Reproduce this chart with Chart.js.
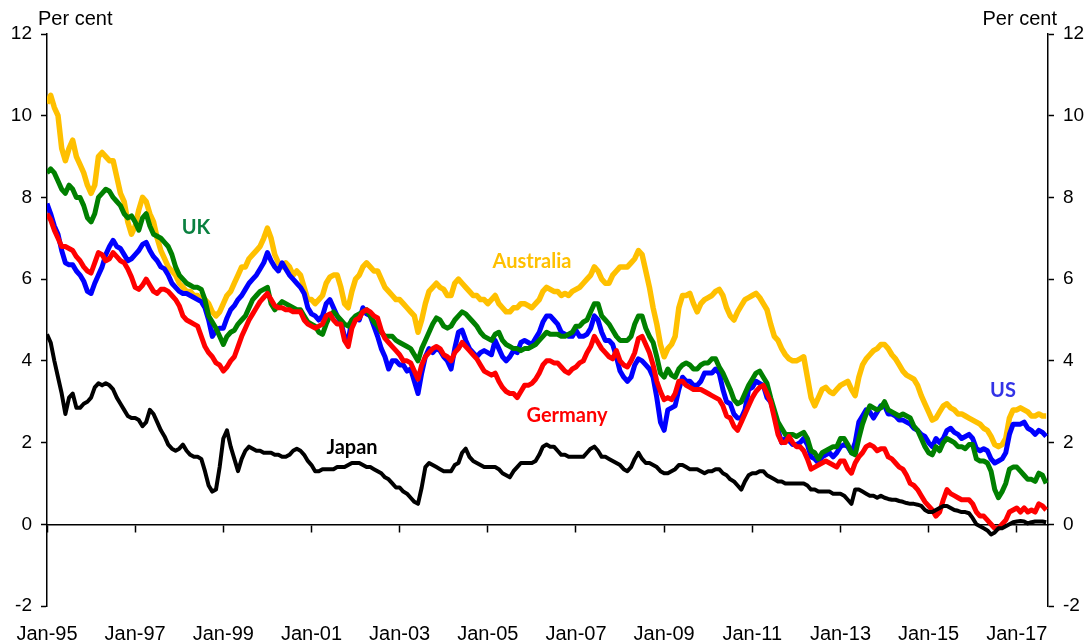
<!DOCTYPE html>
<html>
<head>
<meta charset="utf-8">
<script src="https://cdn.jsdelivr.net/npm/chart.js@4.4.1/dist/chart.umd.min.js"></script>
<style>
  body { margin: 0; background: #fff; }
  #wrap { width: 1092px; height: 644px; }
</style>
</head>
<body>
<div id="wrap"><canvas id="chart" width="1092" height="644"></canvas></div>
<script>
// monthly 10-year government bond yields, Jan-95 .. Sep-17 (one row per year)
const australia = [
	10.3, 10.5, 10.2, 10.0, 9.2, 8.9, 9.2, 9.4, 9.0, 8.8, 8.6, 8.3,
	8.1, 8.3, 9.0, 9.1, 9.0, 8.9, 8.9, 8.5, 8.1, 7.9, 7.4, 7.1,
	7.3, 7.7, 8.0, 7.9, 7.6, 7.4, 7.0, 6.7, 6.5, 6.3, 6.2, 6.1,
	5.9, 5.8, 5.7, 5.7, 5.6, 5.6, 5.5, 5.5, 5.4, 5.2, 5.1, 5.2,
	5.4, 5.6, 5.7, 5.9, 6.1, 6.3, 6.3, 6.5, 6.6, 6.7, 6.8, 7.0,
	7.25, 7.0, 6.6, 6.4, 6.3, 6.4, 6.3, 6.1, 6.2, 6.1, 5.8, 5.5,
	5.5, 5.4, 5.5, 5.6, 5.9, 6.05, 6.1, 6.1, 5.8, 5.4, 5.3, 5.7,
	6.0, 6.1, 6.3, 6.4, 6.3, 6.2, 6.2, 6.0, 5.8, 5.7, 5.6, 5.5,
	5.5, 5.4, 5.3, 5.2, 5.1, 4.7, 5.0, 5.4, 5.7, 5.8, 5.9, 5.8,
	5.75, 5.6, 5.6, 5.9, 6.0, 5.9, 5.8, 5.7, 5.6, 5.6, 5.5, 5.5,
	5.4, 5.5, 5.6, 5.4, 5.3, 5.2, 5.2, 5.3, 5.3, 5.4, 5.4, 5.35,
	5.3, 5.4, 5.5, 5.7, 5.8, 5.75, 5.7, 5.7, 5.6, 5.65, 5.6, 5.7,
	5.75, 5.8, 5.9, 6.0, 6.1, 6.3, 6.2, 6.0, 5.9, 5.9, 6.1, 6.2,
	6.3, 6.3, 6.3, 6.4, 6.5, 6.7, 6.6, 6.2, 5.8, 5.3, 4.9, 4.4,
	4.1, 4.3, 4.4, 4.6, 5.3, 5.6, 5.6, 5.65, 5.4, 5.2, 5.4, 5.5,
	5.55, 5.6, 5.7, 5.75, 5.6, 5.3, 5.1, 5.0, 5.2, 5.35, 5.5, 5.55,
	5.6, 5.65, 5.55, 5.4, 5.25, 4.9, 4.6, 4.5, 4.3, 4.15, 4.05, 4.0,
	4.0, 4.05, 4.1, 3.6, 3.1, 2.9, 3.1, 3.3, 3.35, 3.25, 3.2, 3.3,
	3.4, 3.45, 3.5, 3.3, 3.15, 3.6, 3.9, 4.05, 4.15, 4.25, 4.3, 4.4,
	4.4, 4.3, 4.15, 4.05, 3.9, 3.75, 3.65, 3.6, 3.55, 3.4, 3.15, 2.95,
	2.75, 2.55, 2.6, 2.75, 2.9, 2.95, 2.85, 2.8, 2.7, 2.7, 2.65, 2.6,
	2.55, 2.5, 2.45, 2.35, 2.3, 2.15, 1.95, 1.9, 1.95, 2.1, 2.6, 2.8,
	2.8, 2.85, 2.8, 2.75, 2.65, 2.65, 2.7, 2.65, 2.65
];
const uk = [
	8.6, 8.7, 8.6, 8.4, 8.2, 8.1, 8.3, 8.2, 8.0, 8.0, 7.8, 7.5,
	7.4, 7.6, 8.0, 8.1, 8.2, 8.15, 8.0, 7.9, 7.8, 7.6, 7.5, 7.55,
	7.4, 7.2, 7.5, 7.6, 7.3, 7.1, 7.05, 7.0, 6.9, 6.8, 6.6, 6.3,
	6.1, 6.0, 5.9, 5.85, 5.8, 5.8, 5.75, 5.5, 5.1, 4.95, 4.8, 4.6,
	4.4, 4.6, 4.7, 4.75, 4.9, 5.0, 5.1, 5.3, 5.5, 5.6, 5.7, 5.75,
	5.8, 5.4, 5.25, 5.35, 5.45, 5.4, 5.35, 5.3, 5.25, 5.25, 5.1, 4.95,
	4.9, 4.85, 4.7, 4.65, 4.9, 5.1, 5.2, 5.1, 5.0, 4.9, 4.85, 5.0,
	5.1, 5.15, 5.2, 5.25, 5.1, 4.95, 4.85, 4.7, 4.6, 4.6, 4.6, 4.5,
	4.45, 4.4, 4.35, 4.3, 4.15, 4.0, 4.3, 4.5, 4.7, 4.9, 5.05, 5.0,
	4.85, 4.8, 4.85, 5.0, 5.1, 5.2, 5.15, 5.05, 4.95, 4.85, 4.7, 4.6,
	4.55, 4.5, 4.65, 4.7, 4.5, 4.4, 4.35, 4.3, 4.3, 4.25, 4.3, 4.3,
	4.35, 4.4, 4.5, 4.6, 4.7, 4.65, 4.65, 4.65, 4.6, 4.6, 4.65, 4.7,
	4.85, 4.85, 4.95, 5.0, 5.2, 5.4, 5.4, 5.1, 5.0, 4.9, 4.75, 4.6,
	4.5, 4.5, 4.5, 4.6, 4.9, 5.1, 5.1, 4.8, 4.6, 4.45, 4.1, 3.7,
	3.6, 3.8, 3.65, 3.6, 3.8, 3.9, 3.95, 3.9, 3.8, 3.8, 3.9, 3.95,
	3.95, 4.05, 4.05, 3.85, 3.7, 3.5, 3.3, 3.05, 2.95, 3.0, 3.2, 3.4,
	3.55, 3.7, 3.75, 3.6, 3.45, 3.1, 2.8, 2.5, 2.35, 2.2, 2.2, 2.2,
	2.15, 2.2, 2.25, 2.1, 1.8, 1.75, 1.6, 1.75, 1.8, 1.85, 1.9, 1.9,
	2.1, 2.1, 1.95, 1.75, 1.7, 2.1, 2.45, 2.7, 2.9, 2.85, 2.8, 2.85,
	3.0, 2.8, 2.75, 2.7, 2.65, 2.7, 2.65, 2.6, 2.4, 2.3, 2.1, 1.9,
	1.75, 1.7, 1.9, 1.8, 2.0, 2.1, 2.05, 2.0, 1.9, 1.9, 1.85, 1.95,
	1.95, 1.6, 1.55, 1.55, 1.5, 1.3, 0.85, 0.65, 0.8, 1.0, 1.35, 1.4,
	1.4, 1.3, 1.2, 1.1, 1.1, 1.05, 1.25, 1.2, 1.0
];
const us = [
	7.85, 7.6, 7.3, 7.1, 6.7, 6.4, 6.35, 6.35, 6.2, 6.1, 5.95, 5.7,
	5.65, 5.9, 6.1, 6.3, 6.6, 6.8, 6.95, 6.8, 6.75, 6.6, 6.45, 6.5,
	6.6, 6.7, 6.85, 6.9, 6.7, 6.55, 6.45, 6.3, 6.25, 6.1, 5.9, 5.8,
	5.7, 5.65, 5.65, 5.6, 5.55, 5.5, 5.45, 5.3, 5.0, 4.6, 4.75, 4.8,
	4.8, 5.05, 5.25, 5.35, 5.5, 5.6, 5.75, 5.9, 6.0, 6.1, 6.25, 6.4,
	6.65, 6.45, 6.3, 6.2, 6.4, 6.25, 6.1, 6.0, 5.9, 5.8, 5.65, 5.3,
	5.15, 5.1, 5.0, 5.1, 5.4, 5.5, 5.3, 5.1, 4.95, 4.6, 4.5, 5.0,
	5.05, 5.0, 5.3, 5.15, 5.1, 4.85, 4.6, 4.3, 4.1, 3.8, 4.0, 4.0,
	3.9, 3.9, 3.75, 3.8, 3.5, 3.2, 3.7, 4.1, 4.3, 4.2, 4.3, 4.25,
	4.1, 4.0, 3.8, 4.3, 4.7, 4.75, 4.5, 4.3, 4.2, 4.1, 4.2, 4.25,
	4.2, 4.15, 4.5, 4.3, 4.1, 4.0, 4.1, 4.25, 4.2, 4.45, 4.5, 4.45,
	4.4, 4.55, 4.7, 4.95, 5.1, 5.1, 5.0, 4.9, 4.7, 4.65, 4.6, 4.6,
	4.75, 4.6, 4.6, 4.65, 4.8, 5.1, 5.0, 4.7, 4.5, 4.5, 4.4, 4.1,
	3.75, 3.6, 3.5, 3.6, 3.9, 4.05, 4.0, 3.9, 3.8, 3.6, 3.1, 2.5,
	2.3, 2.8, 2.85, 2.9, 3.3, 3.6, 3.5, 3.5, 3.4, 3.4, 3.5, 3.7,
	3.7, 3.7, 3.8, 3.7, 3.3, 3.0, 2.95, 2.7, 2.6, 2.6, 2.8, 3.3,
	3.35, 3.5, 3.45, 3.4, 3.1, 3.0, 2.7, 2.3, 2.0, 2.1, 2.05, 1.95,
	1.95, 2.0, 2.1, 1.95, 1.65, 1.6, 1.5, 1.65, 1.7, 1.75, 1.65, 1.75,
	1.9, 1.95, 1.9, 1.75, 2.0, 2.5, 2.65, 2.8, 2.75, 2.6, 2.75, 2.9,
	2.9, 2.7, 2.7, 2.65, 2.55, 2.55, 2.5, 2.45, 2.35, 2.3, 2.2, 2.15,
	2.0, 1.9, 2.1, 2.0, 2.1, 2.3, 2.35, 2.25, 2.2, 2.1, 2.15, 2.2,
	2.1, 1.85, 1.8, 1.85, 1.8, 1.6, 1.5, 1.55, 1.6, 1.75, 2.2, 2.45,
	2.45, 2.45, 2.5, 2.35, 2.3, 2.2, 2.3, 2.25, 2.15
];
const germany = [
	7.6, 7.45, 7.2, 7.0, 6.8, 6.8, 6.75, 6.7, 6.55, 6.45, 6.3, 6.2,
	6.15, 6.4, 6.65, 6.6, 6.45, 6.5, 6.65, 6.55, 6.45, 6.4, 6.25, 6.05,
	5.8, 5.75, 5.85, 6.0, 5.85, 5.7, 5.65, 5.75, 5.75, 5.7, 5.6, 5.5,
	5.35, 5.1, 5.0, 4.95, 4.9, 4.85, 4.6, 4.35, 4.2, 4.1, 3.95, 3.9,
	3.75, 3.85, 4.0, 4.1, 4.35, 4.6, 4.8, 5.0, 5.15, 5.3, 5.45, 5.55,
	5.65, 5.5, 5.35, 5.3, 5.3, 5.25, 5.25, 5.2, 5.2, 5.2, 5.0, 4.9,
	4.85, 4.8, 4.85, 4.9, 5.1, 5.15, 5.0, 4.9, 4.9, 4.5, 4.35, 4.8,
	5.0, 5.05, 5.2, 5.25, 5.2, 5.1, 5.05, 4.75, 4.55, 4.45, 4.35, 4.25,
	4.15, 4.0, 4.0, 3.95, 3.75, 3.55, 3.9, 4.1, 4.2, 4.3, 4.35, 4.3,
	4.15, 4.1, 4.0, 4.2, 4.3, 4.45, 4.35, 4.25, 4.15, 4.05, 3.9, 3.75,
	3.7, 3.65, 3.7, 3.5, 3.35, 3.25, 3.2, 3.2, 3.1, 3.25, 3.4, 3.4,
	3.45, 3.55, 3.7, 3.9, 4.0, 4.0, 3.95, 3.95, 3.85, 3.75, 3.7, 3.8,
	3.85, 3.95, 4.0, 4.2, 4.35, 4.6, 4.45, 4.3, 4.2, 4.1, 4.05, 4.25,
	4.0, 3.9, 3.85, 4.0, 4.2, 4.55, 4.6, 4.4, 4.2, 3.9, 3.5, 3.25,
	3.05, 3.1, 3.05, 3.2, 3.5, 3.5, 3.4, 3.35, 3.3, 3.3, 3.3, 3.25,
	3.2, 3.15, 3.1, 3.05, 2.9, 2.65, 2.6, 2.4, 2.3, 2.5, 2.7, 2.9,
	3.1, 3.25, 3.35, 3.4, 3.2, 3.0, 2.6, 2.2, 2.0, 2.0, 2.15, 2.0,
	1.9, 1.9, 1.8, 1.6, 1.35, 1.4, 1.45, 1.5, 1.55, 1.5, 1.45, 1.4,
	1.55, 1.55, 1.35, 1.25, 1.5, 1.65, 1.75, 1.9, 1.95, 1.9, 1.8, 1.85,
	1.85, 1.65, 1.6, 1.5, 1.4, 1.35, 1.2, 1.0, 0.95, 0.85, 0.7, 0.55,
	0.45, 0.35, 0.2, 0.3, 0.6, 0.85, 0.75, 0.7, 0.65, 0.6, 0.6, 0.6,
	0.5, 0.3, 0.2, 0.2, 0.1, 0.0, -0.1, -0.1, 0.0, 0.1, 0.3, 0.35,
	0.4, 0.3, 0.4, 0.3, 0.35, 0.3, 0.5, 0.45, 0.35
];
const japan = [
	4.65, 4.45, 4.0, 3.6, 3.2, 2.7, 3.1, 3.2, 2.85, 2.85, 2.95, 3.0,
	3.1, 3.35, 3.45, 3.4, 3.45, 3.4, 3.3, 3.1, 2.95, 2.8, 2.65, 2.6,
	2.6, 2.55, 2.4, 2.5, 2.8, 2.7, 2.5, 2.3, 2.15, 1.95, 1.85, 1.8,
	1.85, 1.95, 1.8, 1.7, 1.65, 1.65, 1.6, 1.3, 0.95, 0.8, 0.85, 1.4,
	2.1, 2.3, 1.9, 1.6, 1.3, 1.6, 1.8, 1.9, 1.85, 1.8, 1.8, 1.75,
	1.75, 1.75, 1.7, 1.7, 1.65, 1.65, 1.7, 1.8, 1.85, 1.8, 1.7, 1.55,
	1.45, 1.3, 1.3, 1.35, 1.35, 1.35, 1.35, 1.4, 1.4, 1.4, 1.45, 1.5,
	1.5, 1.5, 1.45, 1.4, 1.4, 1.35, 1.3, 1.25, 1.15, 1.1, 1.0, 0.9,
	0.9, 0.8, 0.75, 0.65, 0.55, 0.5, 0.9, 1.4, 1.5, 1.45, 1.4, 1.35,
	1.3, 1.3, 1.3, 1.45, 1.5, 1.75, 1.85, 1.65, 1.55, 1.5, 1.45, 1.4,
	1.4, 1.4, 1.4, 1.35, 1.25, 1.2, 1.15, 1.3, 1.4, 1.5, 1.5, 1.5,
	1.5, 1.55, 1.7, 1.9, 1.95, 1.9, 1.9, 1.8, 1.7, 1.7, 1.65, 1.65,
	1.65, 1.65, 1.65, 1.75, 1.85, 1.9, 1.8, 1.65, 1.65, 1.6, 1.55, 1.5,
	1.45, 1.35, 1.3, 1.4, 1.6, 1.75, 1.6, 1.5, 1.5, 1.45, 1.4, 1.3,
	1.25, 1.25, 1.3, 1.35, 1.45, 1.45, 1.4, 1.35, 1.35, 1.35, 1.3, 1.25,
	1.3, 1.3, 1.35, 1.35, 1.25, 1.2, 1.1, 1.05, 0.95, 0.85, 1.05, 1.2,
	1.25, 1.25, 1.3, 1.3, 1.2, 1.15, 1.1, 1.05, 1.05, 1.0, 1.0, 1.0,
	1.0, 1.0, 1.0, 0.95, 0.85, 0.85, 0.8, 0.8, 0.8, 0.8, 0.75, 0.75,
	0.75, 0.7, 0.6, 0.5, 0.85, 0.85, 0.8, 0.75, 0.7, 0.7, 0.65, 0.7,
	0.65, 0.62, 0.6, 0.6, 0.57, 0.55, 0.52, 0.5, 0.5, 0.48, 0.45, 0.35,
	0.3, 0.3, 0.35, 0.4, 0.45, 0.45, 0.4, 0.35, 0.33, 0.3, 0.3, 0.27,
	0.15, 0.0, -0.05, -0.1, -0.15, -0.25, -0.2, -0.1, -0.1, -0.05, 0.0, 0.05,
	0.07, 0.08, 0.07, 0.02, 0.05, 0.07, 0.07, 0.07, 0.05
];

// x tick labels, one every 24 months from Jan-95
const tickLabels = ["Jan-95", "Jan-97", "Jan-99", "Jan-01", "Jan-03", "Jan-05",
	"Jan-07", "Jan-09", "Jan-11", "Jan-13", "Jan-15", "Jan-17"];
const tickStep = 24;
const yTicks = [-2, 0, 2, 4, 6, 8, 10, 12];

const seriesLabels = [
	{ text: "UK", color: "#0a8040", x: 196, y: 228 },
	{ text: "Australia", color: "#ffc000", x: 532, y: 262 },
	{ text: "US", color: "#3333e6", x: 1003, y: 391 },
	{ text: "Germany", color: "#ff0000", x: 567, y: 416 },
	{ text: "Japan", color: "#000000", x: 352, y: 448 },
];

const axisFont = "Liberation Sans, Arial, sans-serif";

const toPoints = (arr) => arr.map((v, i) => ({ x: i, y: v }));
const setTicks = (scale) => {
	scale.ticks = tickLabels.map((_, i) => ({ value: i * tickStep }));
};

const textPlugin = {
	id: "textPlugin",
	afterDraw(chart) {
		const ctx = chart.ctx;
		ctx.save();
		ctx.fillStyle = "#000";
		ctx.font = "20px " + axisFont;
		ctx.textBaseline = "alphabetic";
		ctx.textAlign = "left";
		ctx.fillText("Per cent", 38, 25);
		ctx.textAlign = "right";
		ctx.fillText("Per cent", 1057, 25);

		ctx.font = "bold 20px Lato, sans-serif";
		ctx.textAlign = "center";
		ctx.textBaseline = "middle";
		seriesLabels.forEach((l) => {
			ctx.fillStyle = l.color;
			ctx.fillText(l.text, l.x, l.y);
		});
		ctx.restore();
	},
};

const lineSet = (label, data, color, width) => ({
	label: label,
	data: toPoints(data),
	borderColor: color,
	borderWidth: width,
	pointRadius: 0,
	tension: 0,
	fill: false,
	borderJoinStyle: "round",
	xAxisID: "x",
	yAxisID: "y",
});

const yAxis = (position, width) => ({
	position: position,
	min: -2,
	max: 12,
	afterBuildTicks: (s) => { s.ticks = yTicks.map((v) => ({ value: v })); },
	afterFit: (s) => { s.width = width; },
	grid: { drawOnChartArea: false, drawTicks: true, tickLength: 6, tickColor: "#000", tickWidth: 1.5 },
	border: { display: true, color: "#000", width: 1.5 },
	ticks: { color: "#000", font: { family: axisFont, size: 19 }, padding: 9 },
});

window.onload = () => {
	const ctx = document.getElementById("chart").getContext("2d");

	const config = {
		type: "line",
		data: {
			datasets: [
				lineSet("Japan", japan, "#000000", 4),
				lineSet("Germany", germany, "#ff0000", 5),
				lineSet("UK", uk, "#008000", 5),
				lineSet("US", us, "#0000ff", 5),
				lineSet("Australia", australia, "#ffc000", 5.5),
			],
		},
		options: {
			responsive: false,
			animation: false,
			devicePixelRatio: 1,
			layout: { padding: { top: 34, left: 0, right: 0, bottom: 0 } },
			plugins: {
				legend: { display: false },
				tooltip: { enabled: false },
			},
			scales: {
				x: {
					type: "linear",
					position: { y: 0 },
					min: 0,
					max: 272.5,
					afterBuildTicks: setTicks,
					grid: { drawOnChartArea: false, drawTicks: true, tickLength: 7, tickColor: "#000", tickWidth: 1.5 },
					border: { display: true, color: "#000", width: 1.5 },
					ticks: { display: false },
				},
				x2: {
					type: "linear",
					position: "bottom",
					min: 0,
					max: 272.5,
					afterBuildTicks: setTicks,
					afterFit: (s) => { s.height = 38; },
					grid: { display: false },
					border: { display: false },
					ticks: {
						autoSkip: false,
						maxRotation: 0,
						padding: 8,
						color: "#000",
						font: { family: axisFont, size: 20 },
						callback: (value) => tickLabels[Math.round(value / tickStep)],
					},
				},
				y: yAxis("left", 47),
				y2: yAxis("right", 44),
			},
		},
		plugins: [textPlugin],
	};

	new Chart(ctx, config);
};
</script>
</body>
</html>
